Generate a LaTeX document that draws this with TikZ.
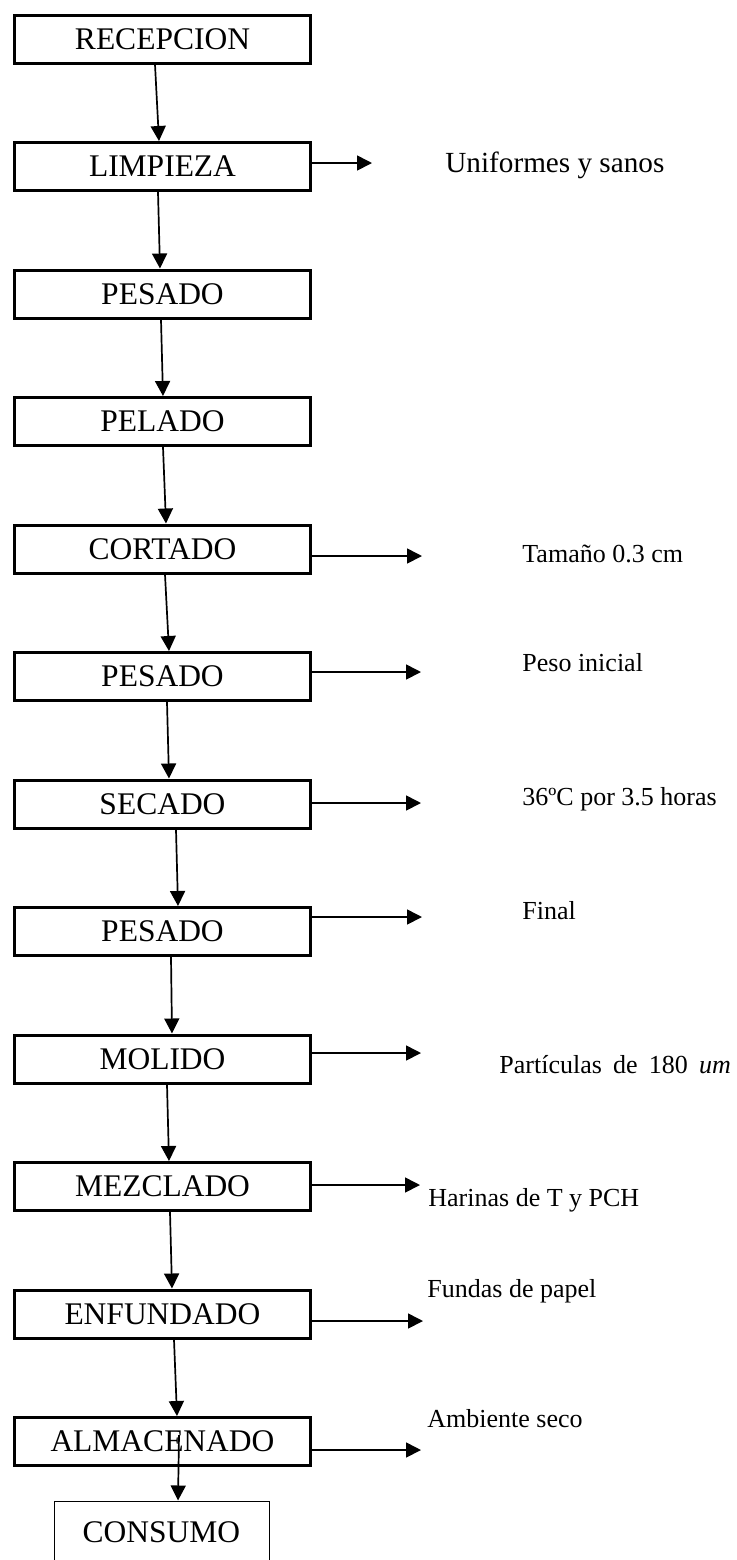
\documentclass[tikz,border=0pt]{standalone}
\usepackage{fontspec}
\setmainfont{Liberation Serif}
\usetikzlibrary{arrows.meta,calc}

\begin{document}
\begin{tikzpicture}[
  x=0.5pt, y=-0.5pt,
  stage/.style={draw, line width=1.5pt, minimum width=148pt, minimum height=24pt,
    inner sep=0pt, font=\fontsize{15.75}{18}\selectfont},
  endstage/.style={draw, line width=0.5pt, minimum width=107.5pt, minimum height=31pt,
    inner sep=0pt, font=\fontsize{15.75}{18}\selectfont},
  flow/.style={line width=0.85pt, -{Triangle[length=7.5pt, width=7.5pt]}},
  note/.style={anchor=base west, inner sep=0pt, font=\fontsize{13}{15}\selectfont},
]
\useasboundingbox (0,0) rectangle (736,1560);
% process stages
\foreach \t [count=\i from 0] in {RECEPCION, LIMPIEZA, PESADO, PELADO, CORTADO,
    PESADO, SECADO, PESADO, MOLIDO, MEZCLADO, ENFUNDADO, ALMACENADO}
  \node[stage] (r\i) at (162.5,39+127.5*\i) {\t};
\node[endstage] (r12) at (161.5,1532) {CONSUMO};
% main line
\foreach \a/\b/\s/\e in {0/1/-7.5/-3.5, 1/2/-4.5/-2.5, 2/3/-1.5/0.5, 3/4/0.5/3.5,
    4/5/2.5/6.5, 5/6/4.5/6.5, 6/7/13.5/15.5, 7/8/8.5/9.5, 8/9/4.5/6.5,
    9/10/7.5/9.5, 10/11/11.5/14.5}
  \draw[flow] ($(r\a.south)+(\s,0)$) -- ($(r\b.north)+(\e,0)$);
\draw[flow] ($(r11.center)+(16.5,-6.5)$) -- ($(r12.north)+(16.5,0)$);
% side outputs
\foreach \n/\y/\x in {1/163/372, 4/556/422, 5/672/421, 6/803/421, 7/917/422,
    8/1053/421, 9/1185/420, 10/1321/423, 11/1450/421} {
  \coordinate (o\n) at (\x,\y);
  \draw[flow] (r\n.east |- o\n) -- (o\n);
}
\node[note, font=\fontsize{14.6}{17}\selectfont] (n1) at (445,172) {Uniformes y sanos};
\node[note] (n4) at (522,562) {Tamaño 0.3 cm};
\node[note] (n5) at (522,671) {Peso inicial};
\node[note] (n6) at (522,805) {36ºC por 3.5 horas};
\node[note] (n7) at (522,919) {Final};
\node[note] (n8) at (499,1073)
  {Partículas\hspace{0.43em}de\hspace{0.43em}180\hspace{0.43em}\textit{um}};
\node[note] (n9) at (428,1206) {Harinas de T y PCH};
\node[note] (n10) at (427,1297) {Fundas de papel};
\node[note] (n11) at (427,1427) {Ambiente seco};
\end{tikzpicture}
\end{document}
